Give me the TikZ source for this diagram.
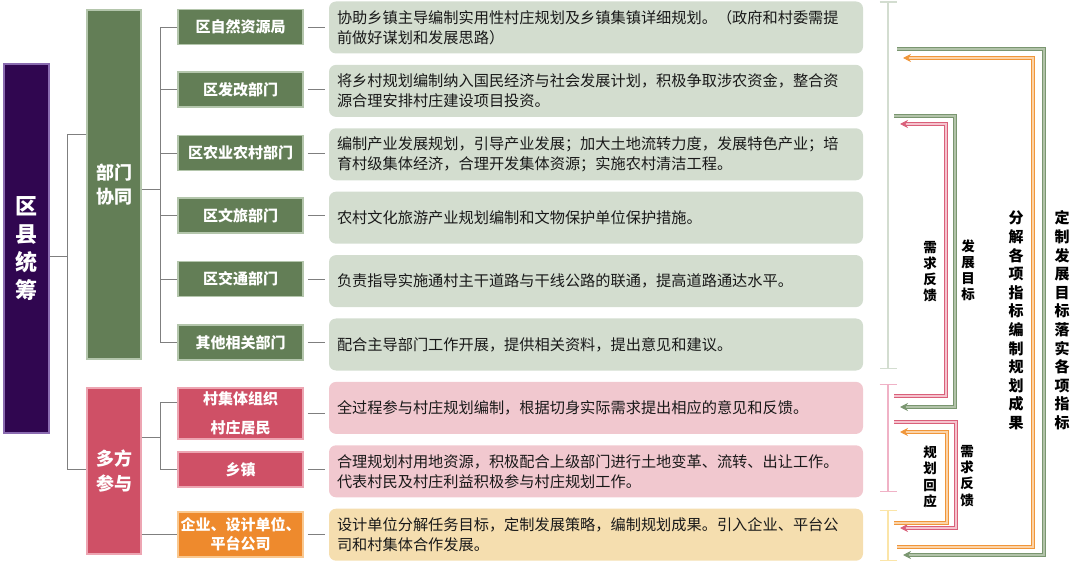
\documentclass[tikz,border=0pt]{standalone}
\usepackage{fontspec}
\setmainfont{Noto Sans CJK SC}
\usetikzlibrary{arrows.meta}

\definecolor{leadfill}{HTML}{300650}
\definecolor{leadline}{HTML}{8A6BB0}
\definecolor{gfill}{HTML}{637E56}
\definecolor{gline}{HTML}{B4C6AC}
\definecolor{pfill}{HTML}{CF5066}
\definecolor{pline}{HTML}{EDA5B2}
\definecolor{ofill}{HTML}{EE8A2D}
\definecolor{oline}{HTML}{F9C890}
\definecolor{dgreen}{HTML}{D3DDCF}
\definecolor{dpink}{HTML}{F1C8CF}
\definecolor{dyellow}{HTML}{F5DEAF}
\definecolor{treeline}{HTML}{7F7F7F}
\definecolor{kgreen}{HTML}{D3DDD0}
\definecolor{kpink}{HTML}{F0B2C6}
\definecolor{kyellow}{HTML}{FBE5A8}
\definecolor{fgdark}{HTML}{7A9670}
\definecolor{fglight}{HTML}{B2C3A9}
\definecolor{fodark}{HTML}{F0963A}
\definecolor{folight}{HTML}{FBD3A8}
\definecolor{fpdark}{HTML}{D9607A}
\definecolor{fplight}{HTML}{F5C3CE}

\begin{document}
\begin{tikzpicture}[x=1pt, y={(0,-1pt)},
  lead/.style={draw=leadline, fill=leadfill, line width=1.2pt, text=white, align=center, inner sep=0pt,
    minimum width=45pt, minimum height=369pt, font=\bfseries\fontsize{22}{28}\selectfont},
  grp/.style={line width=1.5pt, text=white, align=center, inner sep=0pt, minimum width=54pt,
    font=\bfseries\fontsize{18}{24.5}\selectfont},
  dept/.style={draw=gline, fill=gfill, line width=1.5pt, text=white, align=center, inner sep=0pt,
    minimum width=125pt, minimum height=35pt, font=\bfseries\fontsize{15}{19}\selectfont},
  desc/.style={rounded corners=7pt, minimum width=534pt, minimum height=52pt, text width=518pt,
    align=left, inner xsep=8pt, inner ysep=0pt, text=black!90, font=\fontsize{15.2}{20}\selectfont},
  tree/.style={draw=treeline, line width=0.8pt},
  brk/.style={line width=1.3pt, {Bar[width=17pt]}-{Bar[width=17pt]}},
  flow/.style={line width=0.8pt, double distance=1.6pt, -{Stealth[length=8pt, width=8pt]}},
  vlab/.style={align=center, inner sep=0pt, text=black, font=\bfseries\fontsize{15}{18.6}\selectfont},
  slab/.style={align=center, inner sep=0pt, text=black, font=\bfseries\fontsize{13.5}{16.2}\selectfont}]
  \useasboundingbox (0,0) rectangle (1080,564);

  % Define the root and the two groups
  \node[lead] (0) at (26.5,248.5) {区\\县\\统\\筹};
  \node[grp, draw=gline, fill=gfill, minimum height=349pt] (1) at (114,184.5) {部门\\协同};
  \node[grp, draw=pline, fill=pfill, minimum height=166pt] (2) at (114,471) {多方\\参与};

  % Define the departments
  \node[dept] (11) at (240.5,27) {区自然资源局};
  \node[dept] (12) at (240.5,89.5) {区发改部门};
  \node[dept] (13) at (240.5,153) {区农业农村部门};
  \node[dept] (14) at (240.5,215.5) {区文旅部门};
  \node[dept] (15) at (240.5,279) {区交通部门};
  \node[dept] (16) at (240.5,342.5) {其他相关部门};
  \node[dept, draw=pline, fill=pfill, minimum height=51pt, font=\bfseries\fontsize{15}{29}\selectfont] (21) at (240.5,413.5) {村集体组织\\村庄居民};
  \node[dept, draw=pline, fill=pfill] (22) at (240.5,469.5) {乡镇};
  \node[dept, draw=oline, fill=ofill, minimum height=45pt] (23) at (240.5,534.5) {企业、设计单位、\\平台公司};

  % Define the descriptions
  \node[desc, fill=dgreen] (d11) at (596,27.5) {协助乡镇主导编制实用性村庄规划及乡镇集镇详细规划。（政府和村委需提\\前做好谋划和发展思路）};
  \node[desc, fill=dgreen] (d12) at (596,90.9) {将乡村规划编制纳入国民经济与社会发展计划，积极争取涉农资金，整合资\\源合理安排村庄建设项目投资。};
  \node[desc, fill=dgreen] (d13) at (596,154.3) {编制产业发展规划，引导产业发展；加大土地流转力度，发展特色产业；培\\育村级集体经济，合理开发集体资源；实施农村清洁工程。};
  \node[desc, fill=dgreen] (d14) at (596,217.7) {农村文化旅游产业规划编制和文物保护单位保护措施。};
  \node[desc, fill=dgreen] (d15) at (596,281.1) {负责指导实施通村主干道路与干线公路的联通，提高道路通达水平。};
  \node[desc, fill=dgreen] (d16) at (596,344.5) {配合主导部门工作开展，提供相关资料，提出意见和建议。};
  \node[desc, fill=dpink] (d21) at (596,407.9) {全过程参与村庄规划编制，根据切身实际需求提出相应的意见和反馈。};
  \node[desc, fill=dpink] (d22) at (596,471.3) {合理规划村用地资源，积极配合上级部门进行土地变革、流转、出让工作。\\代表村民及村庄利益积极参与村庄规划工作。};
  \node[desc, fill=dyellow] (d23) at (596,534.7) {设计单位分解任务目标，定制发展策略，编制规划成果。引入企业、平台公\\司和村集体合作发展。};

  % Draw the tree
  \coordinate (j0) at (67,256);
  \coordinate (j1) at (67,134);
  \coordinate (j2) at (67,469);
  \draw[tree] (0.east |- j0) -- (j0);
  \draw[tree] (1.west |- j1) -- (j1) -- (j2) -- (2.west |- j2);
  \coordinate (b1) at (160,189);
  \draw[tree] (1.east |- b1) -- (b1);
  \draw[tree] (11.west) -- (11.west -| b1) -- (16.west -| b1) -- (16.west);
  \foreach \i in {12,13,14,15} \draw[tree] (\i.west) -- (\i.west -| b1);
  \coordinate (b2) at (160,437);
  \coordinate (b3) at (160,402);
  \draw[tree] (2.east |- b2) -- (b2);
  \draw[tree] (21.west |- b3) -- (b3) -- (b3 |- 22.west) -- (22.west);
  \draw[tree] (2.east |- 23.west) -- (23.west);
  \foreach \i in {11,12,13,14,15,16,21,22,23}
    \draw[tree, shorten <=4pt, shorten >=4pt] (\i.east) -- (\i.east -| d\i.west);

  % Draw the brackets
  \coordinate (k1) at (888,1.5);
  \coordinate (k2) at (888,369);
  \coordinate (k3) at (888,384);
  \coordinate (k4) at (888,492);
  \coordinate (k5) at (888,510);
  \coordinate (k6) at (888,561);
  \draw[brk, draw=kgreen] (k1) -- (k2);
  \draw[brk, draw=kpink] (k3) -- (k4);
  \draw[brk, draw=kyellow] (k5) -- (k6);

  % Draw the feedback loops
  \coordinate (a1) at (897,49);
  \coordinate (a2) at (903,555);
  \draw[flow, draw=fgdark, double=fglight] (a1) -- ++(147,0) |- (a2);
  \coordinate (o1) at (897,547);
  \coordinate (o2) at (903,58);
  \draw[flow, draw=fodark, double=folight] (o1) -- ++(136,0) |- (o2);
  \coordinate (c1) at (894,116);
  \coordinate (c2) at (900,407);
  \draw[flow, draw=fgdark, double=fglight] (c1) -- ++(61,0) |- (c2);
  \coordinate (p1) at (894,396);
  \coordinate (p2) at (900,124);
  \draw[flow, draw=fpdark, double=fplight] (p1) -- ++(52,0) |- (p2);
  \coordinate (e1) at (894,422);
  \coordinate (e2) at (900,528);
  \draw[flow, draw=fpdark, double=fplight] (e1) -- ++(62,0) |- (e2);
  \coordinate (f1) at (894,523);
  \coordinate (f2) at (900,432);
  \draw[flow, draw=fodark, double=folight] (f1) -- ++(53,0) |- (f2);

  % Labeling the loops
  \node[vlab] (t1) at (1062,320.5) {定\\制\\发\\展\\目\\标\\落\\实\\各\\项\\指\\标};
  \node[vlab] (t2) at (1016,320.5) {分\\解\\各\\项\\指\\标\\编\\制\\规\\划\\成\\果};
  \node[slab] (t3) at (968,270.5) {发\\展\\目\\标};
  \node[slab] (t4) at (930,271.5) {需\\求\\反\\馈};
  \node[slab] (t5) at (930,477) {规\\划\\回\\应};
  \node[slab] (t6) at (967,476) {需\\求\\反\\馈};
\end{tikzpicture}
\end{document}
